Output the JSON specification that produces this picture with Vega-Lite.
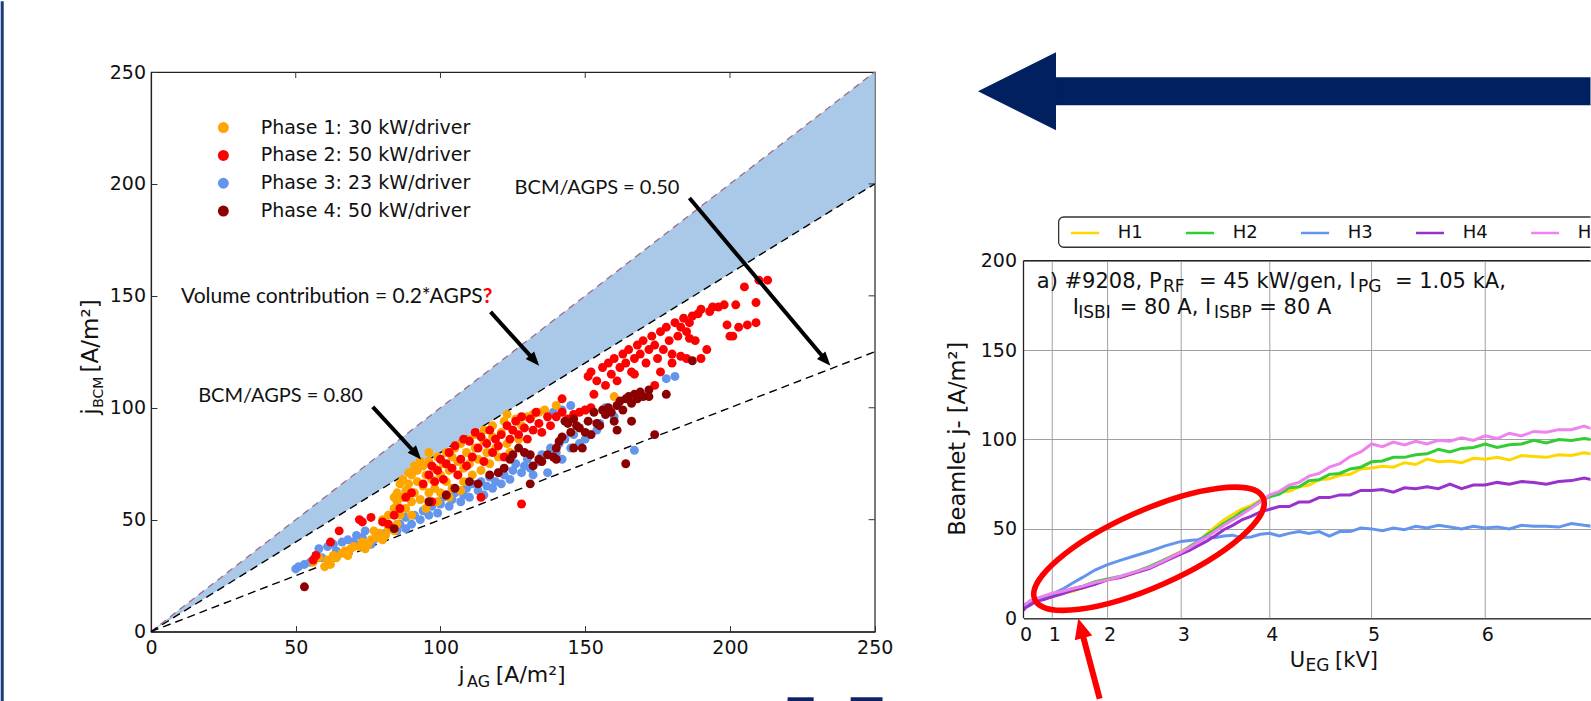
{
"$schema": "https://vega.github.io/schema/vega-lite/v6.json",
"padding": 0,
"autosize": {"type": "pad"},
"background": "white",
"bounds": "flush",
"spacing": 148.5,
"resolve": {"scale": {"color": "independent"}},
"config": {"view": {"stroke": null}, "text": {"font": "DejaVu Sans"}, "axis": {"labelFont": "DejaVu Sans", "titleFont": "DejaVu Sans"}},
"datasets": {
"scatter": [
{"x":50,"y":28,"phase":3},{"x":51,"y":29,"phase":3},{"x":53,"y":30,"phase":3},{"x":55,"y":31,"phase":3},{"x":57,"y":34,"phase":3},{"x":58,"y":37,"phase":3},{"x":59,"y":33,"phase":3},{"x":61,"y":38,"phase":3},{"x":63,"y":39,"phase":3},{"x":64,"y":36,"phase":3},{"x":66,"y":40,"phase":3},{"x":68,"y":41,"phase":3},{"x":70,"y":40,"phase":3},{"x":71,"y":43,"phase":3},{"x":73,"y":42,"phase":3},{"x":74,"y":45,"phase":3},{"x":76,"y":39,"phase":3},{"x":77,"y":41,"phase":3},{"x":79,"y":43,"phase":3},{"x":81,"y":44,"phase":3},{"x":83,"y":46,"phase":3},{"x":85,"y":45,"phase":3},{"x":86,"y":48,"phase":3},{"x":88,"y":46,"phase":3},{"x":88,"y":51,"phase":3},{"x":90,"y":48,"phase":3},{"x":91,"y":52,"phase":3},{"x":93,"y":50,"phase":3},{"x":94,"y":54,"phase":3},{"x":96,"y":52,"phase":3},{"x":97,"y":56,"phase":3},{"x":99,"y":53,"phase":3},{"x":100,"y":57,"phase":3},{"x":101,"y":60,"phase":3},{"x":103,"y":56,"phase":3},{"x":104,"y":59,"phase":3},{"x":105,"y":62,"phase":3},{"x":107,"y":58,"phase":3},{"x":108,"y":61,"phase":3},{"x":109,"y":64,"phase":3},{"x":110,"y":60,"phase":3},{"x":111,"y":66,"phase":3},{"x":113,"y":63,"phase":3},{"x":114,"y":67,"phase":3},{"x":115,"y":61,"phase":3},{"x":116,"y":65,"phase":3},{"x":117,"y":69,"phase":3},{"x":118,"y":64,"phase":3},{"x":119,"y":67,"phase":3},{"x":120,"y":71,"phase":3},{"x":121,"y":66,"phase":3},{"x":122,"y":70,"phase":3},{"x":124,"y":68,"phase":3},{"x":125,"y":72,"phase":3},{"x":126,"y":75,"phase":3},{"x":128,"y":71,"phase":3},{"x":129,"y":74,"phase":3},{"x":130,"y":77,"phase":3},{"x":131,"y":73,"phase":3},{"x":132,"y":70,"phase":3},{"x":134,"y":76,"phase":3},{"x":135,"y":79,"phase":3},{"x":137,"y":71,"phase":3},{"x":138,"y":82,"phase":3},{"x":140,"y":80,"phase":3},{"x":141,"y":84,"phase":3},{"x":142,"y":77,"phase":3},{"x":143,"y":86,"phase":3},{"x":145,"y":82,"phase":3},{"x":146,"y":88,"phase":3},{"x":148,"y":84,"phase":3},{"x":150,"y":86,"phase":3},{"x":152,"y":88,"phase":3},{"x":154,"y":90,"phase":3},{"x":142,"y":99,"phase":3},{"x":145,"y":101,"phase":3},{"x":139,"y":98,"phase":3},{"x":167,"y":81,"phase":3},{"x":181,"y":114,"phase":3},{"x":178,"y":113,"phase":3},{"x":155,"y":93,"phase":3},{"x":160,"y":96,"phase":3},{"x":157,"y":100,"phase":3},
{"x":56,"y":31,"phase":1},{"x":58,"y":33,"phase":1},{"x":60,"y":29,"phase":1},{"x":61,"y":32,"phase":1},{"x":62,"y":30,"phase":1},{"x":63,"y":34,"phase":1},{"x":64,"y":33,"phase":1},{"x":66,"y":35,"phase":1},{"x":67,"y":36,"phase":1},{"x":68,"y":34,"phase":1},{"x":69,"y":37,"phase":1},{"x":70,"y":38,"phase":1},{"x":72,"y":38,"phase":1},{"x":73,"y":40,"phase":1},{"x":74,"y":37,"phase":1},{"x":75,"y":39,"phase":1},{"x":76,"y":41,"phase":1},{"x":77,"y":45,"phase":1},{"x":78,"y":42,"phase":1},{"x":79,"y":44,"phase":1},{"x":80,"y":41,"phase":1},{"x":81,"y":43,"phase":1},{"x":82,"y":46,"phase":1},{"x":84,"y":45,"phase":1},{"x":85,"y":48,"phase":1},{"x":80,"y":50,"phase":1},{"x":82,"y":52,"phase":1},{"x":84,"y":55,"phase":1},{"x":85,"y":58,"phase":1},{"x":86,"y":52,"phase":1},{"x":87,"y":60,"phase":1},{"x":88,"y":63,"phase":1},{"x":88,"y":55,"phase":1},{"x":89,"y":66,"phase":1},{"x":90,"y":58,"phase":1},{"x":90,"y":70,"phase":1},{"x":91,"y":62,"phase":1},{"x":92,"y":67,"phase":1},{"x":92,"y":72,"phase":1},{"x":93,"y":59,"phase":1},{"x":94,"y":65,"phase":1},{"x":94,"y":74,"phase":1},{"x":95,"y":70,"phase":1},{"x":96,"y":62,"phase":1},{"x":96,"y":76,"phase":1},{"x":97,"y":68,"phase":1},{"x":98,"y":73,"phase":1},{"x":98,"y":64,"phase":1},{"x":99,"y":78,"phase":1},{"x":100,"y":70,"phase":1},{"x":100,"y":62,"phase":1},{"x":101,"y":75,"phase":1},{"x":102,"y":80,"phase":1},{"x":102,"y":67,"phase":1},{"x":103,"y":72,"phase":1},{"x":104,"y":78,"phase":1},{"x":104,"y":64,"phase":1},{"x":105,"y":82,"phase":1},{"x":106,"y":70,"phase":1},{"x":106,"y":76,"phase":1},{"x":107,"y":84,"phase":1},{"x":108,"y":73,"phase":1},{"x":108,"y":67,"phase":1},{"x":109,"y":80,"phase":1},{"x":110,"y":86,"phase":1},{"x":110,"y":75,"phase":1},{"x":111,"y":70,"phase":1},{"x":112,"y":82,"phase":1},{"x":112,"y":88,"phase":1},{"x":113,"y":77,"phase":1},{"x":114,"y":72,"phase":1},{"x":115,"y":85,"phase":1},{"x":115,"y":90,"phase":1},{"x":116,"y":80,"phase":1},{"x":117,"y":75,"phase":1},{"x":118,"y":87,"phase":1},{"x":118,"y":92,"phase":1},{"x":119,"y":82,"phase":1},{"x":120,"y":78,"phase":1},{"x":121,"y":89,"phase":1},{"x":122,"y":94,"phase":1},{"x":123,"y":84,"phase":1},{"x":124,"y":80,"phase":1},{"x":125,"y":90,"phase":1},{"x":126,"y":95,"phase":1},{"x":127,"y":86,"phase":1},{"x":128,"y":92,"phase":1},{"x":130,"y":96,"phase":1},{"x":132,"y":97,"phase":1},{"x":134,"y":98,"phase":1},{"x":136,"y":99,"phase":1},{"x":123,"y":97,"phase":1},{"x":140,"y":101,"phase":1},{"x":150,"y":99,"phase":1},{"x":160,"y":105,"phase":1},{"x":96,"y":80,"phase":1},{"x":93,"y":76,"phase":1},{"x":91,"y":74,"phase":1},{"x":89,"y":71,"phase":1},{"x":87,"y":68,"phase":1},{"x":86,"y":66,"phase":1},{"x":85,"y":62,"phase":1},{"x":84,"y":60,"phase":1},{"x":90,"y":52,"phase":1},{"x":95,"y":55,"phase":1},{"x":99,"y":58,"phase":1},{"x":103,"y":60,"phase":1},{"x":107,"y":63,"phase":1},
{"x":56,"y":32,"phase":2},{"x":57,"y":34,"phase":2},{"x":62,"y":40,"phase":2},{"x":65,"y":45,"phase":2},{"x":72,"y":50,"phase":2},{"x":73,"y":49,"phase":2},{"x":76,"y":51,"phase":2},{"x":80,"y":49,"phase":2},{"x":82,"y":48,"phase":2},{"x":84,"y":52,"phase":2},{"x":86,"y":55,"phase":2},{"x":88,"y":60,"phase":2},{"x":90,"y":62,"phase":2},{"x":94,"y":66,"phase":2},{"x":96,"y":70,"phase":2},{"x":97,"y":74,"phase":2},{"x":98,"y":67,"phase":2},{"x":99,"y":72,"phase":2},{"x":100,"y":77,"phase":2},{"x":101,"y":68,"phase":2},{"x":102,"y":75,"phase":2},{"x":103,"y":80,"phase":2},{"x":104,"y":73,"phase":2},{"x":105,"y":83,"phase":2},{"x":106,"y":70,"phase":2},{"x":107,"y":77,"phase":2},{"x":108,"y":86,"phase":2},{"x":109,"y":74,"phase":2},{"x":110,"y":85,"phase":2},{"x":111,"y":78,"phase":2},{"x":112,"y":89,"phase":2},{"x":113,"y":82,"phase":2},{"x":114,"y":87,"phase":2},{"x":115,"y":76,"phase":2},{"x":116,"y":84,"phase":2},{"x":117,"y":90,"phase":2},{"x":118,"y":80,"phase":2},{"x":119,"y":86,"phase":2},{"x":120,"y":83,"phase":2},{"x":121,"y":88,"phase":2},{"x":122,"y":78,"phase":2},{"x":123,"y":92,"phase":2},{"x":124,"y":86,"phase":2},{"x":125,"y":90,"phase":2},{"x":126,"y":94,"phase":2},{"x":127,"y":88,"phase":2},{"x":128,"y":96,"phase":2},{"x":129,"y":91,"phase":2},{"x":130,"y":86,"phase":2},{"x":131,"y":95,"phase":2},{"x":132,"y":90,"phase":2},{"x":133,"y":98,"phase":2},{"x":134,"y":93,"phase":2},{"x":135,"y":89,"phase":2},{"x":137,"y":96,"phase":2},{"x":138,"y":92,"phase":2},{"x":140,"y":96,"phase":2},{"x":142,"y":98,"phase":2},{"x":144,"y":95,"phase":2},{"x":146,"y":97,"phase":2},{"x":148,"y":98,"phase":2},{"x":150,"y":99,"phase":2},{"x":152,"y":100,"phase":2},{"x":142,"y":104,"phase":2},{"x":128,"y":57,"phase":2},{"x":114,"y":60,"phase":2},{"x":102,"y":61,"phase":2},{"x":97,"y":58,"phase":2},
{"x":151,"y":114,"phase":2},{"x":152,"y":116,"phase":2},{"x":153,"y":106,"phase":2},{"x":154,"y":112,"phase":2},{"x":156,"y":118,"phase":2},{"x":157,"y":110,"phase":2},{"x":158,"y":120,"phase":2},{"x":159,"y":115,"phase":2},{"x":160,"y":122,"phase":2},{"x":161,"y":112,"phase":2},{"x":162,"y":118,"phase":2},{"x":163,"y":124,"phase":2},{"x":164,"y":120,"phase":2},{"x":165,"y":126,"phase":2},{"x":166,"y":116,"phase":2},{"x":167,"y":122,"phase":2},{"x":168,"y":128,"phase":2},{"x":169,"y":124,"phase":2},{"x":170,"y":130,"phase":2},{"x":171,"y":120,"phase":2},{"x":172,"y":126,"phase":2},{"x":173,"y":132,"phase":2},{"x":174,"y":128,"phase":2},{"x":175,"y":122,"phase":2},{"x":176,"y":134,"phase":2},{"x":177,"y":126,"phase":2},{"x":178,"y":136,"phase":2},{"x":179,"y":130,"phase":2},{"x":180,"y":124,"phase":2},{"x":181,"y":138,"phase":2},{"x":182,"y":132,"phase":2},{"x":183,"y":136,"phase":2},{"x":184,"y":140,"phase":2},{"x":185,"y":134,"phase":2},{"x":186,"y":138,"phase":2},{"x":187,"y":141,"phase":2},{"x":188,"y":130,"phase":2},{"x":189,"y":142,"phase":2},{"x":190,"y":144,"phase":2},{"x":192,"y":126,"phase":2},{"x":193,"y":143,"phase":2},{"x":194,"y":145,"phase":2},{"x":196,"y":145,"phase":2},{"x":198,"y":146,"phase":2},{"x":200,"y":132,"phase":2},{"x":202,"y":146,"phase":2},{"x":203,"y":136,"phase":2},{"x":205,"y":154,"phase":2},{"x":206,"y":137,"phase":2},{"x":209,"y":138,"phase":2},{"x":209,"y":147,"phase":2},{"x":210,"y":157,"phase":2},{"x":213,"y":157,"phase":2},{"x":176,"y":116,"phase":2},{"x":180,"y":120,"phase":2},{"x":185,"y":122,"phase":2},{"x":190,"y":122,"phase":2},{"x":174,"y":110,"phase":2},{"x":167,"y":115,"phase":2},{"x":186,"y":131,"phase":2},{"x":183,"y":123,"phase":2},{"x":201,"y":132,"phase":2},{"x":199,"y":137,"phase":2},
{"x":53,"y":20,"phase":4},{"x":84,"y":46,"phase":4},{"x":96,"y":58,"phase":4},{"x":102,"y":61,"phase":4},{"x":105,"y":64,"phase":4},{"x":110,"y":67,"phase":4},{"x":113,"y":66,"phase":4},{"x":117,"y":70,"phase":4},{"x":120,"y":71,"phase":4},{"x":122,"y":73,"phase":4},{"x":124,"y":77,"phase":4},{"x":125,"y":79,"phase":4},{"x":127,"y":82,"phase":4},{"x":129,"y":80,"phase":4},{"x":131,"y":66,"phase":4},{"x":131,"y":79,"phase":4},{"x":132,"y":74,"phase":4},{"x":134,"y":77,"phase":4},{"x":135,"y":76,"phase":4},{"x":137,"y":79,"phase":4},{"x":139,"y":78,"phase":4},{"x":140,"y":82,"phase":4},{"x":141,"y":85,"phase":4},{"x":142,"y":87,"phase":4},{"x":143,"y":94,"phase":4},{"x":144,"y":93,"phase":4},{"x":145,"y":89,"phase":4},{"x":146,"y":95,"phase":4},{"x":147,"y":92,"phase":4},{"x":148,"y":91,"phase":4},{"x":149,"y":82,"phase":4},{"x":150,"y":89,"phase":4},{"x":151,"y":94,"phase":4},{"x":152,"y":88,"phase":4},{"x":153,"y":98,"phase":4},{"x":154,"y":93,"phase":4},{"x":155,"y":92,"phase":4},{"x":156,"y":99,"phase":4},{"x":157,"y":97,"phase":4},{"x":158,"y":100,"phase":4},{"x":159,"y":98,"phase":4},{"x":160,"y":94,"phase":4},{"x":161,"y":101,"phase":4},{"x":162,"y":103,"phase":4},{"x":163,"y":99,"phase":4},{"x":164,"y":104,"phase":4},{"x":165,"y":105,"phase":4},{"x":166,"y":102,"phase":4},{"x":167,"y":106,"phase":4},{"x":168,"y":104,"phase":4},{"x":169,"y":107,"phase":4},{"x":170,"y":105,"phase":4},{"x":172,"y":108,"phase":4},{"x":174,"y":88,"phase":4},{"x":164,"y":75,"phase":4},{"x":178,"y":106,"phase":4},{"x":187,"y":121,"phase":4},{"x":161,"y":90,"phase":4},{"x":146,"y":82,"phase":4},{"x":140,"y":77,"phase":4},{"x":166,"y":94,"phase":4},{"x":172,"y":105,"phase":4}
],
"lines": [
{"U":0,"H1":5.5,"H2":6.5,"H3":7,"H4":4.5,"H5":7.5},
{"U":0.2,"H1":7,"H2":7.5,"H3":8,"H4":6,"H5":8},
{"U":0.4,"H1":8.5,"H2":9,"H3":9.5,"H4":7.5,"H5":10},
{"U":0.6,"H1":9.5,"H2":10.5,"H3":10.5,"H4":9.5,"H5":11},
{"U":0.8,"H1":11,"H2":12,"H3":12,"H4":10.5,"H5":12.5},
{"U":1.0,"H1":12.5,"H2":13,"H3":13.5,"H4":12,"H5":14},
{"U":1.2,"H1":14,"H2":14.5,"H3":16,"H4":13.5,"H5":15},
{"U":1.4,"H1":15,"H2":16.5,"H3":19.5,"H4":15.5,"H5":16.5},
{"U":1.6,"H1":17,"H2":18,"H3":23,"H4":17,"H5":18},
{"U":1.8,"H1":19.5,"H2":20.5,"H3":27,"H4":19,"H5":20},
{"U":2.0,"H1":21.5,"H2":22,"H3":30,"H4":21.5,"H5":21.5},
{"U":2.2,"H1":23,"H2":23.5,"H3":32.5,"H4":23,"H5":23.5},
{"U":2.4,"H1":25.5,"H2":26,"H3":35,"H4":25.5,"H5":26},
{"U":2.6,"H1":28,"H2":29,"H3":37.5,"H4":28,"H5":28.5},
{"U":2.8,"H1":33,"H2":33,"H3":40.5,"H4":32,"H5":32.5},
{"U":3.0,"H1":37.5,"H2":37,"H3":43,"H4":36,"H5":37},
{"U":3.1,"H1":40,"H2":40,"H3":43.5,"H4":38,"H5":39.5},
{"U":3.2,"H1":43,"H2":43,"H3":44,"H4":40.5,"H5":42.5},
{"U":3.3,"H1":47,"H2":46.5,"H3":45.5,"H4":43,"H5":45},
{"U":3.4,"H1":51,"H2":49.5,"H3":45,"H4":46,"H5":48.5},
{"U":3.5,"H1":55,"H2":53,"H3":46,"H4":49.5,"H5":52},
{"U":3.6,"H1":58,"H2":56,"H3":46.5,"H4":52,"H5":55},
{"U":3.7,"H1":61,"H2":59.5,"H3":45,"H4":55,"H5":58},
{"U":3.8,"H1":63,"H2":62,"H3":45.5,"H4":57,"H5":61.5},
{"U":3.9,"H1":66,"H2":65.5,"H3":47,"H4":59.5,"H5":65},
{"U":4.0,"H1":68,"H2":68,"H3":47.5,"H4":61,"H5":69},
{"U":4.1,"H1":70.5,"H2":69.5,"H3":46,"H4":62.5,"H5":71},
{"U":4.2,"H1":71,"H2":73,"H3":47.5,"H4":62.5,"H5":74.5},
{"U":4.3,"H1":73.5,"H2":73.5,"H3":48.5,"H4":65,"H5":76},
{"U":4.4,"H1":74.5,"H2":77,"H3":47.5,"H4":65,"H5":79.5},
{"U":4.5,"H1":77.5,"H2":77.5,"H3":48.5,"H4":67.5,"H5":81},
{"U":4.6,"H1":78,"H2":80.5,"H3":46,"H4":67.5,"H5":84.5},
{"U":4.7,"H1":80,"H2":81,"H3":48.5,"H4":69,"H5":86.5},
{"U":4.8,"H1":80.5,"H2":83.5,"H3":48.5,"H4":69,"H5":90.5},
{"U":4.9,"H1":83.5,"H2":84.5,"H3":50.5,"H4":71.5,"H5":93},
{"U":5.0,"H1":84,"H2":87.5,"H3":50,"H4":71.5,"H5":97.5},
{"U":5.1,"H1":85,"H2":88,"H3":49,"H4":72,"H5":96},
{"U":5.2,"H1":84.5,"H2":90,"H3":50.5,"H4":70.5,"H5":98.5},
{"U":5.3,"H1":87,"H2":90,"H3":49.5,"H4":73,"H5":97},
{"U":5.4,"H1":86,"H2":91.5,"H3":51.5,"H4":72.5,"H5":99},
{"U":5.5,"H1":89,"H2":92,"H3":50.5,"H4":73.5,"H5":97.5},
{"U":5.6,"H1":87.5,"H2":94.5,"H3":52,"H4":72.5,"H5":99.5},
{"U":5.7,"H1":88,"H2":93,"H3":51,"H4":75,"H5":99},
{"U":5.8,"H1":87,"H2":95,"H3":50,"H4":72.5,"H5":101},
{"U":5.9,"H1":89.5,"H2":95.5,"H3":51.5,"H4":74.5,"H5":99.5},
{"U":6.0,"H1":89,"H2":97.5,"H3":50.5,"H4":74.5,"H5":102},
{"U":6.1,"H1":90,"H2":95.5,"H3":51,"H4":76,"H5":100.5},
{"U":6.2,"H1":88.5,"H2":97,"H3":50,"H4":75,"H5":103.5},
{"U":6.3,"H1":91,"H2":97.5,"H3":52,"H4":76.5,"H5":102},
{"U":6.4,"H1":90.5,"H2":99.5,"H3":51.5,"H4":76,"H5":104.5},
{"U":6.5,"H1":90,"H2":98,"H3":51.5,"H4":75,"H5":104},
{"U":6.6,"H1":91.5,"H2":100,"H3":51,"H4":76.5,"H5":105.5},
{"U":6.7,"H1":91,"H2":99.5,"H3":53,"H4":77,"H5":105.5},
{"U":6.8,"H1":92.5,"H2":100.5,"H3":52,"H4":78.5,"H5":107.5},
{"U":6.86,"H1":92,"H2":100,"H3":51.5,"H4":77.5,"H5":106}
]
},
"hconcat": [
{
"width": 723.7,
"height": 559.6,
"view": {"stroke": "#222", "strokeWidth": 1.2},
"encoding": {
"x": {"field": "x", "type": "quantitative", "scale": {"domain": [0, 250], "nice": false, "zero": false},
 "axis": {"values": [0, 50, 100, 150, 200, 250], "title": null, "grid": false, "labelFontSize": 19, "labelColor": "#111", "labelFlush": false, "labelOverlap": false, "tickSize": -6, "tickColor": "#333", "labelPadding": 13, "domainColor": "#222", "domainWidth": 1.2}},
"y": {"field": "y", "type": "quantitative", "scale": {"domain": [0, 250], "nice": false, "zero": false},
 "axis": {"values": [0, 50, 100, 150, 200, 250], "title": null, "grid": false, "labelFontSize": 19, "labelColor": "#111", "labelFlush": false, "labelOverlap": false, "tickSize": -6, "tickColor": "#333", "labelPadding": 11.5, "domainColor": "#222", "domainWidth": 1.2}}
},
"layer": [
{"data": {"values": [{"x": -51.92, "x2": -50.88, "y": -31.585, "y2": 281.59}]}, "mark": {"type": "rect", "color": "#1a3a7c"}, "encoding": {"x2": {"field": "x2"}, "y2": {"field": "y2"}}},
{"data": {"values": [{"x": 219.9, "x2": 228.9, "y": -29.35, "y2": -31.585}, {"x": 241.7, "x2": 252.7, "y": -29.35, "y2": -31.585}]}, "mark": {"type": "rect", "color": "#0c2466"}, "encoding": {"x2": {"field": "x2"}, "y2": {"field": "y2"}}},
{"data": {"values": [{"x": 0, "y": 0, "y2": 0}, {"x": 250, "y": 200, "y2": 250}]}, "mark": {"type": "area", "color": "#aac9e8", "opacity": 1}, "encoding": {"y2": {"field": "y2"}}},
{"data": {"values": [{"x": 0, "y": 0}, {"x": 250, "y": 250}]}, "mark": {"type": "line", "color": "#a06a86", "strokeWidth": 1.3, "strokeDash": [7, 5]}},
{"data": {"values": [{"x": 0, "y": 0, "r": "0.8"}, {"x": 250, "y": 200, "r": "0.8"}, {"x": 0, "y": 0, "r": "0.5"}, {"x": 250, "y": 125, "r": "0.5"}]}, "mark": {"type": "line", "color": "black", "strokeWidth": 1.4, "strokeDash": [8, 5]}, "encoding": {"detail": {"field": "r"}}},
{"data": {"values": [{"x": 50, "x2": 50, "y": 250, "y2": 247.3}, {"x": 100, "x2": 100, "y": 250, "y2": 247.3}, {"x": 150, "x2": 150, "y": 250, "y2": 247.3}, {"x": 200, "x2": 200, "y": 250, "y2": 247.3}, {"x": 250, "x2": 247.9, "y": 50, "y2": 50}, {"x": 250, "x2": 247.9, "y": 100, "y2": 100}, {"x": 250, "x2": 247.9, "y": 150, "y2": 150}, {"x": 250, "x2": 247.9, "y": 200, "y2": 200}]}, "mark": {"type": "rule", "color": "#333", "strokeWidth": 1}, "encoding": {"x2": {"field": "x2"}, "y2": {"field": "y2"}}},
{"data": {"name": "scatter"}, "mark": {"type": "circle", "size": 80, "opacity": 1}, "encoding": {"color": {"field": "phase", "type": "nominal", "scale": {"domain": [1, 2, 3, 4], "range": ["#FFA500", "#FF0000", "#6495ED", "#8B0000"]}, "legend": null}}},
{"data": {"values": [{"x": 25, "y": 225.2, "phase": 1}, {"x": 25, "y": 212.7, "phase": 2}, {"x": 25, "y": 200.3, "phase": 3}, {"x": 25, "y": 187.9, "phase": 4}]}, "mark": {"type": "circle", "size": 120, "opacity": 1}, "encoding": {"color": {"field": "phase", "type": "nominal", "scale": {"domain": [1, 2, 3, 4], "range": ["#FFA500", "#FF0000", "#6495ED", "#8B0000"]}, "legend": null}}},
{"data": {"values": [{"x": 37.9, "y": 225.2, "label": "Phase 1: 30 kW/driver"}, {"x": 37.9, "y": 212.7, "label": "Phase 2: 50 kW/driver"}, {"x": 37.9, "y": 200.3, "label": "Phase 3: 23 kW/driver"}, {"x": 37.9, "y": 187.9, "label": "Phase 4: 50 kW/driver"}]}, "mark": {"type": "text", "align": "left", "baseline": "middle", "fontSize": 19, "font": "DejaVu Sans", "color": "#111"}, "encoding": {"text": {"field": "label"}}},
{"data": {"values": [{"x": 125.6, "y": 198.1, "t": "BCM/AGPS = 0.50"}, {"x": 16.3, "y": 105.1, "t": "BCM/AGPS = 0.80"}]}, "mark": {"type": "text", "align": "left", "baseline": "middle", "fontSize": 20, "font": "Lato", "color": "#111"}, "encoding": {"text": {"field": "t"}}},
{"data": {"values": [{"x": 114.6, "y": 149.7, "t": "Volume contribution = 0.2*AGPS"}]}, "mark": {"type": "text", "align": "right", "baseline": "middle", "fontSize": 21, "font": "Lato", "color": "#111"}, "encoding": {"text": {"field": "t"}}},
{"data": {"values": [{"x": 114.6, "y": 149.7, "t": "?"}]}, "mark": {"type": "text", "align": "left", "baseline": "middle", "fontSize": 21, "font": "Lato", "fontWeight": "bold", "color": "#FF0000"}, "encoding": {"text": {"field": "t"}}},
{"data": {"values": [{"x": 186, "y": 193.7, "x2": 233.4, "y2": 120.8}, {"x": 117.3, "y": 142.8, "x2": 132.7, "y2": 120.8}, {"x": 76.6, "y": 100.4, "x2": 91.9, "y2": 78.9}]}, "mark": {"type": "rule", "color": "black", "strokeWidth": 4}, "encoding": {"x2": {"field": "x2"}, "y2": {"field": "y2"}}},
{"data": {"values": [{"x": 234.7, "y": 118.8}, {"x": 134.1, "y": 118.8}, {"x": 93.3, "y": 76.9}]}, "mark": {"type": "point", "shape": "M0,0L-0.8,-2L0.8,-2Z", "size": 196, "angle": 318.5, "filled": true, "color": "black", "opacity": 1}},
{"data": {"values": [{"x": 106.2, "y": -22.65, "t": "j"}, {"x": 119.1, "y": -22.65, "t": "[A/m²]"}]}, "mark": {"type": "text", "align": "left", "baseline": "alphabetic", "fontSize": 22, "color": "#111"}, "encoding": {"text": {"field": "t"}}},
{"data": {"values": [{"x": 109.2, "y": -22.65, "t": "AG"}]}, "mark": {"type": "text", "align": "left", "baseline": "alphabetic", "fontSize": 16, "dy": 5, "color": "#111"}, "encoding": {"text": {"field": "t"}}},
{"data": {"values": [{"x": -18.24, "y": 96.9, "t": "j"}, {"x": -18.24, "y": 115.8, "t": "[A/m²]"}]}, "mark": {"type": "text", "align": "left", "baseline": "alphabetic", "fontSize": 23, "angle": 270, "color": "#111"}, "encoding": {"text": {"field": "t"}}},
{"data": {"values": [{"x": -18.24, "y": 100.0, "t": "BCM"}]}, "mark": {"type": "text", "align": "left", "baseline": "alphabetic", "fontSize": 14, "dy": 5, "angle": 270, "color": "#111"}, "encoding": {"text": {"field": "t"}}}
]
},
{
"width": 567,
"height": 546.3,
"view": {"stroke": null},
"encoding": {
"x": {"field": "U", "type": "quantitative", "scale": {"type": "pow", "exponent": 1.55, "domain": [0, 6.85], "nice": false, "zero": false},
 "axis": {"values": [0, 1, 2, 3, 4, 5, 6], "format": "d", "title": null, "grid": false, "labelFontSize": 19, "labelColor": "#111", "labelFlush": false, "labelOverlap": false, "ticks": false, "labelPadding": 7, "labelOffset": 2, "domainColor": "#222", "domainWidth": 1.3}},
"y": {"field": "j", "type": "quantitative", "scale": {"domain": [0, 305.5], "nice": false, "zero": false},
 "axis": {"values": [0, 50, 100, 150, 200], "title": "Beamlet j- [A/m²]", "titleFontSize": 22.5, "titleFontWeight": "normal", "titleColor": "#111", "titleX": -54, "titleY": 366.3, "grid": true, "gridColor": "#a0a0a0", "gridWidth": 1, "domain": false, "ticks": false, "labelFontSize": 19, "labelColor": "#111", "labelPadding": 7, "labelFlush": false, "labelOverlap": false}}
},
"layer": [
{"data": {"values": [{"U": 1, "j": 0, "j2": 200}, {"U": 2, "j": 0, "j2": 200}, {"U": 3, "j": 0, "j2": 200}, {"U": 4, "j": 0, "j2": 200}, {"U": 5, "j": 0, "j2": 200}, {"U": 6, "j": 0, "j2": 200}]}, "mark": {"type": "rule", "color": "#a0a0a0", "strokeWidth": 1}, "encoding": {"y2": {"field": "j2"}}},
{"data": {"name": "lines"}, "transform": [{"fold": ["H1", "H2", "H3", "H4", "H5"], "as": ["h", "j"]}], "mark": {"type": "line", "strokeWidth": 3, "clip": true}, "encoding": {"color": {"field": "h", "type": "nominal", "scale": {"domain": ["H1", "H2", "H3", "H4", "H5"], "range": ["#FFD700", "#32CD32", "#6495ED", "#9932CC", "#EE82EE"]}, "legend": null}}},
{"data": {"values": [{"U": 0, "U2": 6.85, "j": 200, "j2": 200}, {"U": 0, "U2": 0, "j": 0, "j2": 200}]}, "mark": {"type": "rule", "color": "#222", "strokeWidth": 1.3}, "encoding": {"x2": {"field": "U2"}, "y2": {"field": "j2"}}},
{"data": {"values": [{"U": 0.608, "j": 184.7, "t": "a) #9208, P"}, {"U": 3.213, "j": 184.7, "t": "= 45 kW/gen, I"}, {"U": 5.214, "j": 184.7, "t": "= 1.05 kA,"}, {"U": 1.414, "j": 169.9, "t": "I"}, {"U": 2.181, "j": 169.9, "t": "= 80 A, I"}, {"U": 3.889, "j": 169.9, "t": "= 80 A"}, {"U": 4.206, "j": -27.4, "t": "U"}, {"U": 4.655, "j": -27.4, "t": "[kV]"}]}, "mark": {"type": "text", "align": "left", "baseline": "alphabetic", "fontSize": 21, "color": "#111"}, "encoding": {"text": {"field": "t"}}},
{"data": {"values": [{"U": 2.772, "j": 184.7, "t": "RF"}, {"U": 4.873, "j": 184.7, "t": "PG"}, {"U": 1.517, "j": 169.9, "t": "ISBI"}, {"U": 3.389, "j": 169.9, "t": "ISBP"}, {"U": 4.366, "j": -27.4, "t": "EG"}]}, "mark": {"type": "text", "align": "left", "baseline": "alphabetic", "fontSize": 17, "dy": 4, "color": "#111"}, "encoding": {"text": {"field": "t"}}},
{"data": {"values": [{"U": 1.139, "U2": 7.4, "j": 207.5, "j2": 224.4}]}, "mark": {"type": "rect", "fill": "white", "stroke": "#333", "strokeWidth": 1.3, "cornerRadius": 5, "clip": true}, "encoding": {"x2": {"field": "U2"}, "y2": {"field": "j2"}}},
{"data": {"values": [{"U": 1.383, "U2": 1.87, "j": 215.5, "h": "H1"}, {"U": 3.058, "U2": 3.389, "j": 215.5, "h": "H2"}, {"U": 4.32, "U2": 4.597, "j": 215.5, "h": "H3"}, {"U": 5.403, "U2": 5.649, "j": 215.5, "h": "H4"}, {"U": 6.378, "U2": 6.603, "j": 215.5, "h": "H5"}]}, "mark": {"type": "rule", "strokeWidth": 2.5, "clip": true}, "encoding": {"x2": {"field": "U2"}, "color": {"field": "h", "type": "nominal", "scale": {"domain": ["H1", "H2", "H3", "H4", "H5"], "range": ["#FFD700", "#32CD32", "#6495ED", "#9932CC", "#EE82EE"]}, "legend": null}}},
{"data": {"values": [{"U": 2.152, "j": 215.5, "t": "H1"}, {"U": 3.6, "j": 215.5, "t": "H2"}, {"U": 4.777, "j": 215.5, "t": "H3"}, {"U": 5.809, "j": 215.5, "t": "H4"}, {"U": 6.75, "j": 215.5, "t": "H5"}]}, "mark": {"type": "text", "align": "left", "baseline": "middle", "fontSize": 18, "color": "#111", "clip": true}, "encoding": {"text": {"field": "t"}}},
{"data": {"values": [{"U": 2.589, "j": 38.9}]}, "mark": {"type": "point", "shape": "M1,0C1,0.1679 0.5523,0.304 0,0.304C-0.5523,0.304 -1,0.1679 -1,0C-1,-0.1679 -0.5523,-0.304 0,-0.304C0.5523,-0.304 1,-0.1679 1,0Z", "size": 62500, "angle": 336, "filled": false, "color": "#FF0000", "strokeWidth": 5.5, "opacity": 1}},
{"data": {"values": [{"U": 1.876, "j": -45.0, "U2": 1.554, "j2": -4.4}]}, "mark": {"type": "rule", "color": "#FF0000", "strokeWidth": 6}, "encoding": {"x2": {"field": "U2"}, "y2": {"field": "j2"}}},
{"data": {"values": [{"U": 1.517, "j": -0.1}]}, "mark": {"type": "point", "shape": "M0,0L-0.9,-2L0.9,-2Z", "size": 400, "angle": 165, "filled": true, "color": "#FF0000", "opacity": 1}},
{"data": {"values": [{"U": 1.083, "U2": 6.85, "j": 286.9, "j2": 302.6}]}, "mark": {"type": "rect", "color": "#002060"}, "encoding": {"x2": {"field": "U2"}, "y2": {"field": "j2"}}},
{"data": {"values": [{"U": 1.083, "j": 294.7}]}, "mark": {"type": "point", "shape": "M0,-1L0,1L-2,0Z", "size": 6084, "filled": true, "color": "#002060", "opacity": 1}}
]
}
]
}
